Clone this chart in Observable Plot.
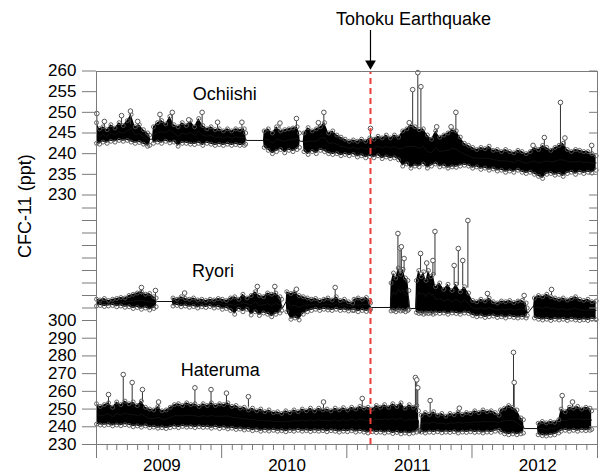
<!DOCTYPE html>
<html><head><meta charset="utf-8">
<script src="https://cdn.jsdelivr.net/npm/d3@7"></script>
<script src="https://cdn.jsdelivr.net/npm/@observablehq/plot@0.6"></script>
<style>body{margin:0;background:#fff;} svg{display:block}</style>
</head><body><div id="chart"></div>
<script>
// ---------- DATA (ppt) ----------
// band rows: [date, low, high]; gap rows (connecting line only): [date, value]
const ochiishiBand = [
["2009-01-01",242.5,247.5],["2009-01-10",242.3,246.0],["2009-01-20",242.8,246.5],["2009-02-01",242.5,245.8],
["2009-02-12",243.0,247.0],["2009-02-24",242.8,246.2],["2009-03-08",243.2,247.5],["2009-03-20",243.0,246.8],
["2009-04-01",243.2,248.0],["2009-04-12",242.8,249.5],["2009-04-24",242.5,246.5],["2009-05-06",242.7,247.0],
["2009-05-18",242.3,245.8],["2009-05-30",241.8,245.0],["2009-06-05",242.0,244.5],
["2009-06-08",243.5],["2009-06-13",243.5],
["2009-06-16",242.5,246.5],["2009-06-28",242.8,247.5],["2009-07-10",242.5,248.0],["2009-07-22",243.0,247.2],
["2009-08-03",242.6,249.0],["2009-08-15",242.8,247.0],["2009-08-27",241.8,246.5],["2009-09-08",242.5,247.5],
["2009-09-20",242.5,246.8],["2009-10-02",242.3,248.0],["2009-10-14",242.2,246.5],["2009-10-26",242.5,248.5],
["2009-11-07",242.0,246.8],["2009-11-19",242.5,246.0],["2009-12-01",242.3,246.5],["2009-12-13",242.0,245.8],
["2009-12-25",242.2,246.0],["2010-01-06",242.0,245.5],["2010-01-18",242.3,246.0],["2010-01-30",242.0,245.5],
["2010-02-11",242.2,246.0],["2010-02-23",242.0,245.8],["2010-03-08",242.0,246.0],["2010-03-12",242.3,245.0],
["2010-03-14",243.2],["2010-05-03",243.2],
["2010-05-05",241.5,245.5],["2010-05-17",240.8,246.0],["2010-05-29",240.0,245.0],["2010-06-10",240.5,246.5],
["2010-06-22",241.0,245.5],["2010-07-04",240.2,245.8],["2010-07-16",240.8,246.0],["2010-07-28",240.5,246.2],
["2010-08-09",241.0,246.5],["2010-08-16",241.5,245.0],
["2010-08-18",243.0],["2010-08-27",243.0],
["2010-08-29",240.5,245.0],["2010-09-10",239.8,246.3],["2010-09-22",240.5,245.5],["2010-10-04",240.0,246.0],
["2010-10-16",240.8,246.5],["2010-10-28",240.5,247.5],["2010-11-09",240.0,245.0],["2010-11-21",239.8,245.5],
["2010-12-03",240.0,244.5],["2010-12-15",239.5,244.0],["2010-12-27",239.8,243.5],["2011-01-08",239.5,243.0],
["2011-01-20",239.8,243.3],["2011-02-01",239.2,243.0],["2011-02-13",239.5,243.5],["2011-02-25",239.0,243.0],
["2011-03-09",239.3,243.8],["2011-03-21",239.0,243.5],["2011-04-02",239.5,244.2],["2011-04-14",238.8,243.8],
["2011-04-26",239.2,244.5],["2011-05-08",238.8,243.8],["2011-05-20",239.0,244.5],["2011-06-01",238.5,244.0],
["2011-06-13",237.0,245.5],["2011-06-25",237.5,246.0],["2011-07-07",236.5,247.0],["2011-07-19",237.0,246.5],
["2011-07-31",236.8,245.8],["2011-08-12",237.5,246.0],["2011-08-24",236.5,244.5],["2011-09-05",237.0,243.5],
["2011-09-17",237.5,245.5],["2011-09-29",236.8,244.0],["2011-10-11",237.0,244.5],["2011-10-23",236.5,245.0],
["2011-11-04",236.8,245.8],["2011-11-16",236.7,245.5],["2011-11-28",237.0,244.0],["2011-12-10",237.2,242.5],
["2011-12-22",237.0,242.0],["2012-01-03",236.5,241.5],["2012-01-15",236.8,241.0],["2012-01-27",236.2,241.5],
["2012-02-08",236.5,241.2],["2012-02-20",236.0,241.8],["2012-03-03",236.3,240.8],["2012-03-15",235.8,241.0],
["2012-03-27",236.0,240.5],["2012-04-08",235.5,241.0],["2012-04-20",235.8,240.5],["2012-05-02",235.5,240.2],
["2012-05-14",236.0,240.8],["2012-05-26",235.5,240.5],["2012-06-07",235.2,240.0],["2012-06-19",235.5,240.5],
["2012-07-01",235.0,241.5],["2012-07-13",234.5,241.0],["2012-07-25",234.0,242.0],["2012-08-06",235.0,241.5],
["2012-08-18",235.2,240.8],["2012-08-30",234.8,241.5],["2012-09-11",235.0,242.0],["2012-09-23",234.5,242.5],
["2012-10-05",235.2,241.0],["2012-10-17",235.5,240.5],["2012-10-29",235.0,241.0],["2012-11-10",235.5,240.8],
["2012-11-22",235.2,240.5],["2012-12-04",235.5,240.5],["2012-12-16",235.3,240.0],["2012-12-28",236.0,239.5]
];
const ryoriBand = [
["2009-01-01",240.8,243.5],["2009-01-12",241.0,243.2],["2009-01-24",240.6,243.8],["2009-02-05",240.8,243.0],
["2009-02-17",241.0,243.5],["2009-03-01",240.5,243.8],["2009-03-13",240.8,244.2],["2009-03-25",240.3,244.0],
["2009-04-06",240.5,245.0],["2009-04-18",239.8,245.5],["2009-04-30",240.2,246.0],["2009-05-12",239.5,246.5],
["2009-05-24",240.0,245.5],["2009-06-05",239.2,245.8],["2009-06-17",239.8,244.5],["2009-06-24",240.5,244.0],
["2009-06-26",242.6],["2009-08-10",242.6],
["2009-08-12",240.8,244.0],["2009-08-24",241.0,243.5],["2009-09-05",240.5,244.5],["2009-09-17",240.8,243.8],
["2009-09-29",240.3,243.5],["2009-10-11",240.6,244.0],["2009-10-23",240.0,243.2],["2009-11-04",240.5,243.5],
["2009-11-16",240.2,243.0],["2009-11-28",240.6,243.5],["2009-12-10",240.0,243.2],["2009-12-22",240.3,243.8],
["2010-01-03",239.5,243.5],["2010-01-15",239.8,243.0],["2010-01-27",239.0,244.0],["2010-02-08",237.5,244.5],
["2010-02-20",239.5,243.5],["2010-03-04",238.5,245.5],["2010-03-16",239.5,244.0],["2010-03-28",237.2,245.0],
["2010-04-09",238.5,246.5],["2010-04-21",237.0,245.0],["2010-05-03",238.0,244.5],["2010-05-15",237.5,246.0],
["2010-05-27",236.5,245.5],["2010-06-08",237.5,246.0],["2010-06-20",238.0,244.5],["2010-06-25",239.0,243.5],
["2010-06-27",239.8],["2010-07-08",242.6],
["2010-07-10",238.5,246.5],["2010-07-22",235.5,245.8],["2010-08-03",236.0,246.5],["2010-08-15",235.2,245.0],
["2010-08-27",237.5,244.5],["2010-09-08",238.5,244.0],["2010-09-20",239.0,243.5],["2010-10-02",239.5,243.8],
["2010-10-14",239.0,243.0],["2010-10-26",239.5,243.5],["2010-11-07",239.2,244.0],["2010-11-19",239.0,243.2],
["2010-12-01",239.5,244.5],["2010-12-13",239.0,243.0],["2010-12-25",239.2,243.5],["2011-01-06",238.8,242.5],
["2011-01-18",239.0,242.0],["2011-01-22",239.0,243.5],["2011-02-03",238.5,244.0],["2011-02-15",239.0,243.5],
["2011-02-27",238.6,244.2],["2011-03-09",239.0,243.0],["2011-03-11",239.5,242.0],
["2011-03-12",240.2],["2011-05-08",240.2],
["2011-05-10",238.8,250.0],["2011-05-17",239.0,254.0],["2011-05-24",238.5,252.0],["2011-05-31",239.2,256.0],
["2011-06-07",238.8,253.5],["2011-06-14",239.0,255.5],["2011-06-21",238.5,252.0],["2011-06-28",239.0,251.0],
["2011-07-01",239.5,247.0],
["2011-07-03",239.8],["2011-07-21",239.8],
["2011-07-23",238.2,251.0],["2011-07-30",237.8,255.0],["2011-08-06",238.0,252.5],["2011-08-13",237.5,254.5],
["2011-08-20",238.0,251.0],["2011-08-27",237.8,255.0],["2011-09-03",238.0,252.5],["2011-09-10",237.5,253.5],
["2011-09-17",238.0,248.5],["2011-09-29",237.8,250.0],["2011-10-11",238.0,247.5],["2011-10-23",237.5,249.5],
["2011-11-04",238.0,247.0],["2011-11-16",237.8,249.5],["2011-11-28",237.5,246.5],["2011-12-10",238.0,248.5],
["2011-12-22",237.8,246.0],["2012-01-03",237.0,243.0],["2012-01-15",236.5,242.5],["2012-01-27",236.8,243.5],
["2012-02-08",236.2,242.8],["2012-02-20",236.5,244.0],["2012-03-03",236.8,242.5],["2012-03-15",236.2,242.0],
["2012-03-27",236.5,242.8],["2012-04-08",236.0,242.5],["2012-04-20",236.5,243.0],["2012-05-02",236.2,242.2],
["2012-05-14",236.0,242.8],["2012-05-26",236.3,243.0],["2012-06-07",236.0,242.0],["2012-06-10",237.0,240.0],
["2012-06-12",238.0],["2012-06-29",241.0],
["2012-07-01",236.0,244.0],["2012-07-13",235.5,245.0],["2012-07-25",235.2,244.5],["2012-08-06",235.5,245.5],
["2012-08-18",235.0,244.5],["2012-08-30",235.5,244.0],["2012-09-11",235.2,243.5],["2012-09-23",235.5,244.0],
["2012-10-05",235.0,243.2],["2012-10-17",235.5,243.8],["2012-10-29",235.2,244.5],["2012-11-10",235.0,243.5],
["2012-11-22",235.3,243.0],["2012-12-04",235.0,243.5],["2012-12-16",235.5,242.5],["2012-12-28",235.3,242.8]
];
const haterumaBand = [
["2009-01-01",241.5,253.0],["2009-01-12",241.0,251.5],["2009-01-24",240.8,252.5],["2009-02-05",241.2,253.5],
["2009-02-17",240.5,251.0],["2009-03-01",241.0,254.0],["2009-03-13",240.6,252.5],["2009-03-25",241.2,254.5],
["2009-04-06",240.8,253.0],["2009-04-18",240.0,254.0],["2009-04-30",240.5,252.0],["2009-05-12",239.8,254.5],
["2009-05-24",240.5,251.0],["2009-06-05",239.5,250.0],["2009-06-17",239.8,249.5],["2009-06-29",239.2,251.5],
["2009-07-11",239.5,249.0],["2009-07-23",239.0,249.5],["2009-08-04",239.5,251.0],["2009-08-16",240.0,252.5],
["2009-08-28",239.5,253.0],["2009-09-09",240.2,252.0],["2009-09-21",239.8,253.5],["2009-10-03",240.0,252.5],
["2009-10-15",239.5,253.0],["2009-10-27",240.0,251.5],["2009-11-08",239.6,253.0],["2009-11-20",239.8,252.0],
["2009-12-02",239.2,253.5],["2009-12-14",239.8,252.0],["2009-12-26",239.0,253.0],["2010-01-07",239.5,252.5],
["2010-01-19",238.8,253.5],["2010-01-31",239.2,251.5],["2010-02-12",238.5,252.0],["2010-02-24",238.8,250.5],
["2010-03-08",238.2,251.0],["2010-03-20",238.5,249.5],["2010-04-01",237.8,250.5],["2010-04-13",238.3,249.0],
["2010-04-25",237.5,250.0],["2010-05-07",238.0,248.5],["2010-05-19",237.6,249.5],["2010-06-01",238.0,248.0],
["2010-06-13",237.5,248.5],["2010-06-25",237.8,247.5],["2010-07-07",237.2,249.0],["2010-07-19",237.8,248.0],
["2010-07-31",237.5,249.5],["2010-08-12",238.0,248.5],["2010-08-24",237.5,250.0],["2010-09-05",237.8,249.0],
["2010-09-17",237.3,250.5],["2010-09-29",237.8,249.0],["2010-10-11",237.5,250.5],["2010-10-23",237.8,249.5],
["2010-11-04",237.2,250.0],["2010-11-16",237.8,249.0],["2010-11-28",237.5,250.5],["2010-12-10",237.0,249.5],
["2010-12-22",237.5,250.8],["2011-01-03",237.2,249.5],["2011-01-15",237.8,251.0],["2011-01-27",237.0,250.0],
["2011-02-08",237.5,251.5],["2011-02-20",237.0,250.5],["2011-03-04",236.5,251.0],["2011-03-16",237.2,250.0],
["2011-03-28",236.8,252.0],["2011-04-09",237.0,251.0],["2011-04-21",236.5,252.5],["2011-05-03",237.0,251.0],
["2011-05-15",236.2,253.0],["2011-05-27",236.8,251.5],["2011-06-08",236.0,253.5],["2011-06-20",236.5,250.5],
["2011-07-02",236.0,252.5],["2011-07-14",236.5,251.0],["2011-07-24",237.0,252.0],["2011-07-29",238.0,249.0],
["2011-07-31",236.5],["2011-08-04",236.5],
["2011-08-06",237.0,246.5],["2011-08-18",236.5,248.0],["2011-08-30",237.0,247.0],["2011-09-11",236.8,248.5],
["2011-09-23",237.2,246.5],["2011-10-05",236.6,247.5],["2011-10-17",237.0,246.0],["2011-10-29",236.8,247.5],
["2011-11-10",237.2,246.8],["2011-11-22",236.5,248.5],["2011-12-04",237.0,247.0],["2011-12-16",236.8,248.0],
["2011-12-28",237.2,247.5],["2012-01-09",236.8,249.0],["2012-01-21",237.0,248.0],["2012-02-02",236.5,249.5],
["2012-02-14",237.0,248.5],["2012-02-26",236.8,249.0],["2012-03-09",237.5,248.0],["2012-03-20",238.0,246.5],
["2012-03-24",237.0,249.5],["2012-04-05",236.0,250.5],["2012-04-17",235.5,252.0],["2012-04-29",236.0,251.0],
["2012-05-11",235.5,249.5],["2012-05-23",236.0,245.0],["2012-05-30",236.5,244.0],
["2012-06-01",239.0],["2012-07-10",239.0],
["2012-07-12",235.5,242.0],["2012-07-24",235.0,243.0],["2012-08-05",234.8,242.2],["2012-08-17",235.2,243.0],
["2012-08-29",235.5,242.5],["2012-09-10",236.5,244.0],["2012-09-17",237.5,250.0],["2012-09-29",238.0,248.5],
["2012-10-11",237.5,251.0],["2012-10-23",238.0,250.5],["2012-11-04",237.5,251.5],["2012-11-16",238.0,250.0],
["2012-11-28",237.8,251.0],["2012-12-10",238.0,250.5],["2012-12-15",238.5,249.0]
];
// pollution spikes: [date, base, peak]
const ochiishiSpikes = [
["2009-01-02",246,249.7],["2009-01-24",246,247.8],["2009-03-15",246.5,249.2],["2009-04-10",247,250.3],
["2009-05-01",246,247.8],["2009-07-05",247,249.5],["2009-08-10",247,250.0],["2009-09-27",246.5,248.2],
["2009-11-05",246.5,250.0],["2009-12-20",246,247.6],["2010-03-01",246,247.6],["2010-06-20",246,247.4],
["2010-08-07",246.5,248.5],["2010-10-10",246,247.5],["2010-10-26",246.5,250.0],["2011-03-11",243.5,246.1],
["2011-07-02",246,247.5],["2011-07-12",246,255.5],["2011-07-27",246,259.6],["2011-08-05",246,256.2],
["2011-09-20",245,246.5],["2011-11-01",245.5,246.5],["2011-11-15",245.5,250.0],["2012-06-27",241,242.0],
["2012-07-30",241.5,243.9],["2012-09-15",242,252.4],["2012-09-28",241.5,243.8],["2012-12-15",240,242.0]
];
const ryoriSpikes = [
["2009-05-12",245,248.2],["2009-06-22",244,247.0],["2009-09-15",244,246.0],["2010-04-15",246,248.6],
["2010-06-05",246,248.6],["2010-08-07",246,247.5],["2010-11-28",244,248.2],["2011-05-30",254,269.8],
["2011-06-05",254,264.0],["2011-06-09",254,264.5],["2011-06-17",254,259.8],["2011-08-04",254,261.8],
["2011-08-22",254,258.0],["2011-09-09",253,259.0],["2011-09-15",253,270.6],["2011-11-10",249,257.0],
["2011-11-22",249,263.8],["2011-12-05",249,259.0],["2011-12-20",248,275.0],["2012-02-15",244,245.8],
["2012-06-01",243,245.0],["2012-08-20",245,247.4]
];
const haterumaSpikes = [
["2009-02-05",253,258.2],["2009-03-20",254,269.5],["2009-04-15",254,265.0],["2009-05-15",254,261.0],
["2009-07-01",251,254.0],["2009-10-15",253,262.0],["2009-12-01",253,261.0],["2010-01-15",253,259.0],
["2010-03-20",251,257.0],["2010-10-25",250,254.0],["2011-02-15",251,256.0],["2011-07-20",252,267.8],
["2011-07-24",252,266.5],["2011-07-27",250,262.0],["2011-09-01",248,254.8],["2011-11-25",248,250.5],
["2012-05-01",251,282.0],["2012-05-03",251,265.0],["2012-09-20",250,257.6],["2012-10-20",251,254.0]
];
const ochiishiTicks = [230,235,240,245,250,255,260];
const ryoriTicks = [240,245,250,255,260,265,270,275,280];
const haterumaTicks = [230,240,250,260,270,280,290,300];
const yearLabels = ["2009","2010","2011","2012"];
const stationNames = ["Ochiishi","Ryori","Hateruma"];
const quakeDate = "2011-03-11";
const quakeLabel = "Tohoku Earthquake";
const yLabel = "CFC-11 (ppt)";

// ---------- stacked panels share one vertical scale ----------
const panel = {
  Ochiishi: v => 249.5 + (v - 230) * 124 / 30,
  Ryori: v => 124 + (v - 235) * 2.5,
  Hateruma: v => (v - 230) * 124 / 70
};
const TOP = 373;
const at = p => 444 - p; // screen-row helper for annotations

function bandRows(name, arr) {
  const f = panel[name];
  return arr.map(r => {
    const lo = r[1], hi = r.length > 2 ? r[2] : r[1];
    return {station: name, date: new Date(r[0]), lo: f(lo), hi: f(hi), mid: f((lo + hi) / 2), gap: r.length === 2};
  });
}
function spikeRows(name, arr) {
  const f = panel[name];
  return arr.map(r => ({station: name, date: new Date(r[0]), base: f(r[1]), peak: f(r[2])}));
}
const band = [...bandRows("Ochiishi", ochiishiBand), ...bandRows("Ryori", ryoriBand), ...bandRows("Hateruma", haterumaBand)];
const spikes = [...spikeRows("Ochiishi", ochiishiSpikes), ...spikeRows("Ryori", ryoriSpikes), ...spikeRows("Hateruma", haterumaSpikes)];
const solid = band.filter(d => !d.gap);

const yTicks = [
  ...ochiishiTicks.map(v => ({u: panel.Ochiishi(v), label: String(v)})),
  ...ryoriTicks.map(v => ({u: panel.Ryori(v), label: ""})),
  ...haterumaTicks.map(v => ({u: panel.Hateruma(v), label: String(v)}))
];

const xStart = new Date("2009-01-01"), xEnd = new Date("2013-01-01");
const months = d3.utcMonths(xStart, xEnd).filter(d => d.getUTCMonth() !== 0);
const years = d3.utcYears(xStart, new Date("2013-01-02"));
const quake = new Date(quakeDate);
const gray = "#7a7a7a";
const leftTickStart = d3.utcDay.offset(xStart, -41);
const rightTickStart = d3.utcDay.offset(xEnd, -23);
const FS = 17, FL = 18;

const chart = Plot.plot({
  width: 607, height: 474,
  marginTop: 71, marginBottom: 30, marginLeft: 96, marginRight: 10,
  x: {type: "utc", domain: [xStart, xEnd], axis: null},
  y: {domain: [0, TOP], axis: null},
  style: {fontFamily: "'Liberation Sans', Arial, Helvetica, sans-serif", fontSize: FS + "px", background: "white", overflow: "visible"},
  marks: [
    // data
    Plot.areaY(band, {x: "date", y1: "lo", y2: "hi", z: "station", fill: "black", curve: "linear"}),
    Plot.line(band, {x: "date", y: "mid", z: "station", stroke: "#111", strokeWidth: 1}),
    Plot.ruleX(spikes, {x: "date", y1: "base", y2: "peak", stroke: "#333", strokeWidth: 1}),
    Plot.dot(solid, {x: "date", y: "hi", r: 2, stroke: "#555", fill: "none", strokeWidth: 0.9}),
    Plot.dot(solid, {x: "date", y: "lo", r: 2, stroke: "#555", fill: "none", strokeWidth: 0.9}),
    Plot.dot(spikes, {x: "date", y: "peak", r: 2.3, stroke: "#555", fill: "white", strokeWidth: 1}),
    // earthquake line
    Plot.ruleX([quake], {x: d => d, y1: () => 0, y2: () => TOP, stroke: "#ee3b3b", strokeWidth: 2, strokeDasharray: "6,4"}),
    // frame
    Plot.ruleY([0, TOP], {y: d => d, x1: () => xStart, x2: () => xEnd, stroke: gray}),
    Plot.ruleX([xStart, xEnd], {x: d => d, y1: () => -14, y2: () => TOP, stroke: gray}),
    // y ticks
    Plot.ruleY(yTicks, {y: "u", x1: () => leftTickStart, x2: () => xStart, stroke: gray}),
    Plot.ruleY(yTicks, {y: "u", x1: () => rightTickStart, x2: () => xEnd, stroke: gray}),
    Plot.text(yTicks.filter(d => d.label), {y: "u", x: () => leftTickStart, text: "label", textAnchor: "end", dx: -6, fill: "black", fontSize: FS}),
    // x ticks
    Plot.ruleX(months, {x: d => d, y1: () => 0, y2: () => -6, stroke: gray}),
    Plot.ruleX(years, {x: d => d, y1: () => 0, y2: () => -14, stroke: gray}),
    Plot.text(yearLabels, {x: d => new Date(d + "-07-02"), y: () => -21, text: d => d, dx: 3, fontSize: FS, fill: "black"}),
    // y label
    Plot.text([yLabel], {frameAnchor: "left", dx: -71, rotate: -90, fontSize: FL, fill: "black"}),
    // station names
    Plot.text([stationNames[0]], {x: () => new Date("2010-01-10"), y: () => at(93.5), fontSize: FL, fill: "black"}),
    Plot.text([stationNames[1]], {x: () => new Date("2009-12-07"), y: () => at(271), fontSize: FL, fill: "black"}),
    Plot.text([stationNames[2]], {x: () => new Date("2009-12-28"), y: () => at(369.5), fontSize: FL, fill: "black"}),
    // annotation
    Plot.text([quakeLabel], {x: () => quake, y: () => at(19), dx: 43, fontSize: FL, fill: "black"}),
    Plot.ruleX([quake], {x: d => d, y1: () => at(30), y2: () => at(62), stroke: "black", strokeWidth: 1.2}),
    Plot.dot([quake], {x: d => d, y: () => at(63), symbol: "triangle", rotate: 180, r: 4, fill: "black", stroke: "none"})
  ]
});
document.getElementById("chart").appendChild(chart);
</script></body></html>
